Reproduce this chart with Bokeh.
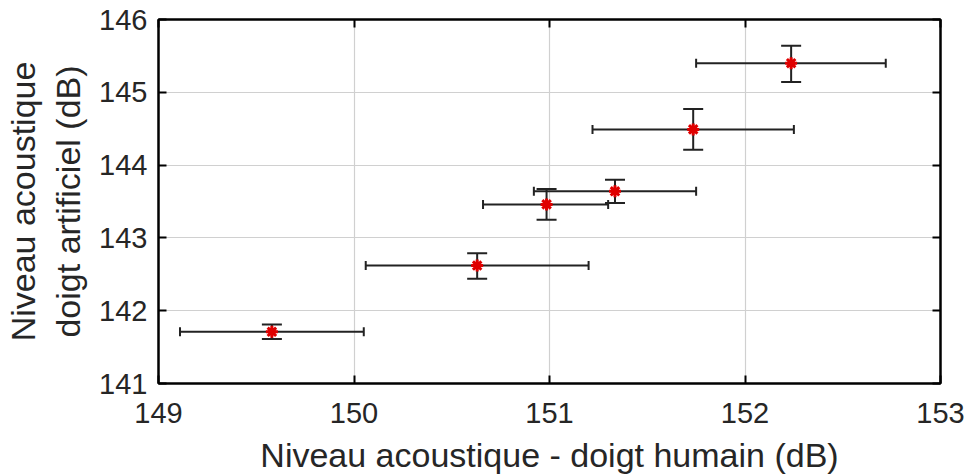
from bokeh.plotting import figure
from bokeh.models import ColumnDataSource, Whisker, TeeHead, LinearAxis, FixedTicker, Range1d
from bokeh.embed import file_html
from bokeh.resources import INLINE

# Data
human_db = [149.58, 150.63, 150.985, 151.335, 151.735, 152.236]
human_lo = [149.11, 150.06, 150.66, 150.92, 151.22, 151.75]
human_hi = [150.05, 151.20, 151.30, 151.75, 152.25, 152.72]
artif_db = [141.71, 142.62, 143.46, 143.64, 144.49, 145.40]
artif_lo = [141.61, 142.44, 143.25, 143.48, 144.21, 145.14]
artif_hi = [141.81, 142.79, 143.67, 143.80, 144.77, 145.64]
x_ticks = [149, 150, 151, 152, 153]
y_ticks = [141, 142, 143, 144, 145, 146]

src = ColumnDataSource(dict(x=human_db, xl=human_lo, xh=human_hi,
                            y=artif_db, yl=artif_lo, yh=artif_hi))

FONT = "Liberation Sans"
TXT = "#262626"

p = figure(width=967, height=474, output_backend="svg", toolbar_location=None,
           x_range=Range1d(149, 153), y_range=Range1d(141, 146),
           frame_width=782, frame_height=364,
           min_border_left=158, min_border_right=27, min_border_top=19, min_border_bottom=91)
p.background_fill_color = "white"
p.border_fill_color = "white"
p.outline_line_color = "black"
p.outline_line_width = 2

p.xaxis.axis_label = "Niveau acoustique - doigt humain (dB)"
p.yaxis.axis_label = "Niveau acoustique\ndoigt artificiel (dB)"
p.xaxis.ticker = FixedTicker(ticks=x_ticks)
p.yaxis.ticker = FixedTicker(ticks=y_ticks)

for ax in [p.xaxis[0], p.yaxis[0]]:
    ax.axis_line_width = 2
    ax.axis_line_color = "black"
    ax.major_tick_in = 8
    ax.major_tick_out = 0
    ax.major_tick_line_width = 2
    ax.minor_tick_line_color = None
    ax.major_label_text_font = FONT
    ax.major_label_text_font_size = "29px"
    ax.major_label_text_color = TXT
    ax.axis_label_text_font = FONT
    ax.axis_label_text_font_size = "34px"
    ax.axis_label_text_font_style = "normal"
    ax.axis_label_text_color = TXT
p.xaxis.major_label_standoff = 19
p.yaxis.major_label_standoff = 11
p.xaxis.axis_label_standoff = 10
p.yaxis.axis_label_standoff = 9

for loc, tk in [("above", x_ticks), ("right", y_ticks)]:
    ax = LinearAxis(ticker=FixedTicker(ticks=tk), major_label_text_font_size="1px",
                    major_label_text_color=None,
                    axis_line_width=2, major_tick_in=8, major_tick_out=0,
                    major_tick_line_width=2, minor_tick_line_color=None,
                    major_label_standoff=0)
    p.add_layout(ax, loc)

p.grid.grid_line_color = "#d0d0d0"
p.grid.grid_line_width = 1.2
p.xgrid.ticker = FixedTicker(ticks=x_ticks)
p.ygrid.ticker = FixedTicker(ticks=y_ticks)

wx = Whisker(source=src, base="y", lower="xl", upper="xh", dimension="width",
             line_color="#222222", line_width=2,
             lower_head=TeeHead(size=9, line_width=2, line_color="#222222"),
             upper_head=TeeHead(size=9, line_width=2, line_color="#222222"),
             level="underlay")
wy = Whisker(source=src, base="x", lower="yl", upper="yh", dimension="height",
             line_color="#222222", line_width=2,
             lower_head=TeeHead(size=20, line_width=2, line_color="#222222"),
             upper_head=TeeHead(size=20, line_width=2, line_color="#222222"),
             level="underlay")
p.add_layout(wx)
p.add_layout(wy)

p.scatter("x", "y", source=src, marker="asterisk", size=12,
          line_color="#e00000", line_width=3)

open("out.html", "w").write(file_html(p, INLINE))
